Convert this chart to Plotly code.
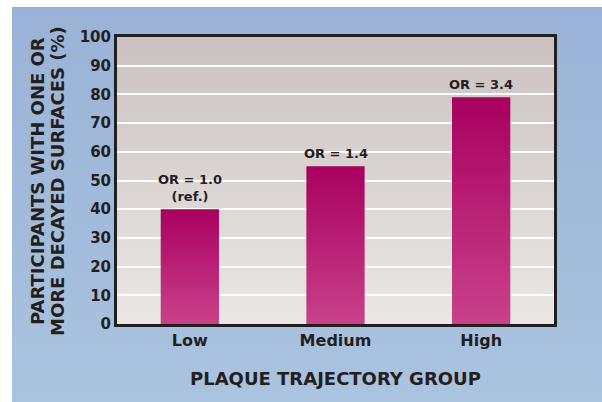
import plotly.graph_objects as go

# Data
groups = ["Low", "Medium", "High"]
pct_decayed = [40, 55, 79]
odds_labels = ["OR = 1.0<br>(ref.)", "OR = 1.4", "OR = 3.4"]
y_ticks = list(range(0, 101, 10))

W, H = 602, 402
INK = "#231F20"
FONT = "DejaVu Sans"

# Plot-area placement in figure fractions
px0, px1 = 117 / W, 554 / W
py0, py1 = (H - 324) / H, (H - 37) / H
half_w = 0.2

fig = go.Figure()

# Background subplot spanning the whole figure (paper fractions)
fig.add_trace(go.Scatter(
    x=[12 / W, 1, 1, 12 / W, 12 / W], y=[0, 0, 1 - 7 / H, 1 - 7 / H, 0],
    fill="toself", mode="none", hoverinfo="skip", showlegend=False,
    fillgradient=dict(type="vertical",
                      colorscale=[[0, "#AAC3DF"], [1, "#9AB2D6"]]),
    xaxis="x", yaxis="y"))
fig.add_trace(go.Scatter(
    x=[px0, px1, px1, px0, px0], y=[py0, py0, py1, py1, py0],
    fill="toself", mode="none", hoverinfo="skip", showlegend=False,
    fillgradient=dict(type="vertical",
                      colorscale=[[0, "#EAE7E5"], [1, "#CAC2C0"]]),
    xaxis="x", yaxis="y"))

# Bars with vertical gradient
for i, v in enumerate(pct_decayed):
    fig.add_trace(go.Scatter(
        x=[i - half_w, i + half_w, i + half_w, i - half_w, i - half_w],
        y=[0, 0, v, v, 0],
        fill="toself", mode="none", hoverinfo="skip", showlegend=False,
        fillgradient=dict(type="vertical",
                          colorscale=[[0, "#C9418A"], [1, "#A8005F"]]),
        xaxis="x2", yaxis="y2"))

for i, (v, lab) in enumerate(zip(pct_decayed, odds_labels)):
    fig.add_annotation(x=i, y=v, xref="x2", yref="y2", text=lab,
                       showarrow=False, yanchor="bottom", yshift=3,
                       font=dict(family=FONT, size=13, color=INK, weight="bold"))

# Axis titles
title_font = dict(family=FONT, size=18, color=INK, weight="bold")
fig.add_annotation(x=37 / W, y=1 - 181 / H, xref="paper", yref="paper",
                   xanchor="center", yanchor="middle",
                   text="PARTICIPANTS WITH ONE OR", textangle=-90, showarrow=False,
                   font=title_font)
fig.add_annotation(x=57 / W, y=1 - 181 / H, xref="paper", yref="paper",
                   xanchor="center", yanchor="middle",
                   text="MORE DECAYED SURFACES (%)", textangle=-90, showarrow=False,
                   font=title_font)
fig.add_annotation(x=(px0 + px1) / 2, y=1 - 378 / H, xref="paper", yref="paper",
                   xanchor="center", yanchor="middle",
                   text="PLAQUE TRAJECTORY GROUP", showarrow=False,
                   font=title_font)

hidden = dict(visible=False, fixedrange=True)
fig.update_layout(
    width=W, height=H,
    margin=dict(l=0, r=0, t=0, b=0, pad=0, autoexpand=False),
    paper_bgcolor="white",
    plot_bgcolor="rgba(0,0,0,0)",
    xaxis=dict(domain=[0, 1], range=[0, 1], **hidden),
    yaxis=dict(domain=[0, 1], range=[0, 1], **hidden),
    xaxis2=dict(domain=[px0, px1], range=[-0.5, 2.5], anchor="y2",
                tickvals=list(range(len(groups))), ticktext=groups,
                showgrid=False, zeroline=False, ticks="",
                showline=True, linecolor=INK, linewidth=3, mirror=True,
                tickfont=dict(family=FONT, size=16, color=INK, weight="bold"),
                fixedrange=True),
    yaxis2=dict(domain=[py0, py1], range=[0, 100], anchor="x2",
                tickvals=y_ticks, showgrid=True, gridcolor="white", gridwidth=2,
                zeroline=False, ticks="",
                showline=True, linecolor=INK, linewidth=3, mirror=True,
                tickfont=dict(family=FONT, size=15, color=INK, weight="bold"),
                fixedrange=True),
)

fig.write_html("out.html")
